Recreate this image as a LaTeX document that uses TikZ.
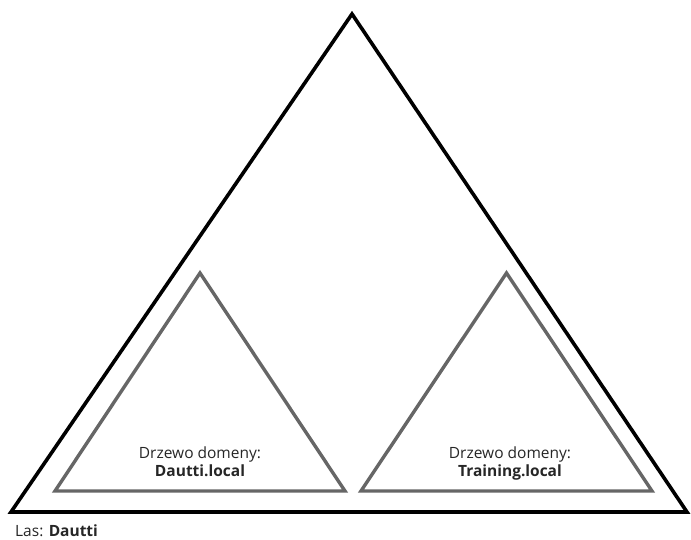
\documentclass[tikz,border=0pt]{standalone}
\usepackage{fontspec}
\setmainfont{Open Sans}
\begin{document}
\begin{tikzpicture}[x=1pt,y=-1pt,
  forest/.style={draw=black,line width=3.6pt,line join=miter},
  tree/.style={draw=black!60,line width=3.4pt,line join=miter},
  lbl/.style={font=\fontsize{15.5}{18}\selectfont,text=black!85,inner sep=0pt,anchor=base}]
\useasboundingbox (0,0) rectangle (691,539);
% forest
\draw[forest] (352,14) -- (687,512) -- (11,512) -- cycle;
% domain trees
\draw[tree] (200,273) -- (345,491) -- (55,491) -- cycle;
\draw[tree] (506.5,273) -- (652,491) -- (361,491) -- cycle;
% labels
\node[lbl] (t1a) at (200,458) {Drzewo domeny:};
\node[lbl] (t1b) at (200,476) {\textbf{Dautti.local}};
\node[lbl] (t2a) at (510,458) {Drzewo domeny:};
\node[lbl] (t2b) at (510,476) {\textbf{Training.local}};
\node[lbl,anchor=base west] (las) at (15,536.5) {Las: \textbf{Dautti}};
\end{tikzpicture}
\end{document}
